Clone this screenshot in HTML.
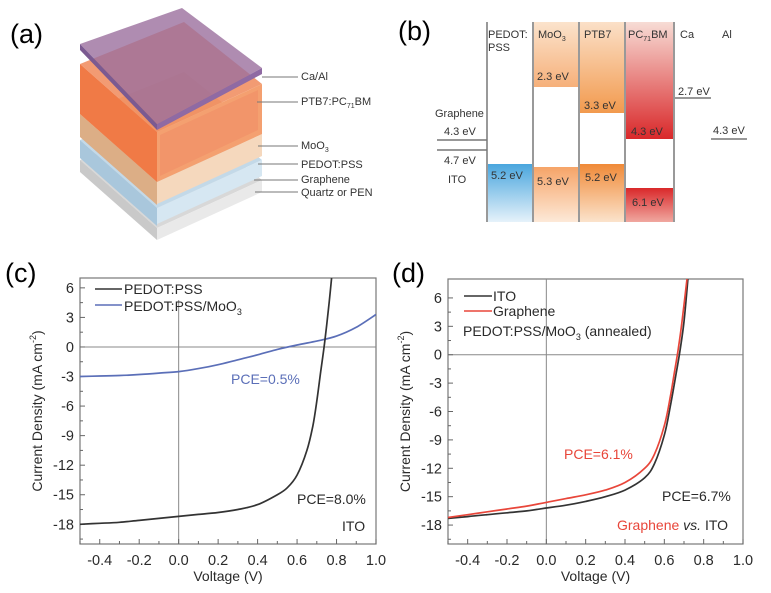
<!DOCTYPE html>
<html><head><meta charset="utf-8">
<style>
html,body{margin:0;padding:0;background:#fff;}
svg{display:block;font-family:"Liberation Sans",Arial,sans-serif;}
</style></head>
<body>
<svg id="fig" width="771" height="593" viewBox="0 0 771 593" xmlns="http://www.w3.org/2000/svg">
<defs>
<linearGradient id="gOrT" x1="0" y1="0" x2="0" y2="1"><stop offset="0" stop-color="#fbe3cc"/><stop offset="1" stop-color="#f6b07a"/></linearGradient>
<linearGradient id="gOrB" x1="0" y1="0" x2="0" y2="1"><stop offset="0" stop-color="#f6a468"/><stop offset="1" stop-color="#fde9d8"/></linearGradient>
<linearGradient id="gPtT" x1="0" y1="0" x2="0" y2="1"><stop offset="0" stop-color="#fbe0c8"/><stop offset="1" stop-color="#f29a4e"/></linearGradient>
<linearGradient id="gPtB" x1="0" y1="0" x2="0" y2="1"><stop offset="0" stop-color="#f08a38"/><stop offset="1" stop-color="#fbe3cc"/></linearGradient>
<linearGradient id="gRdT" x1="0" y1="0" x2="0" y2="1"><stop offset="0" stop-color="#f7dcd5"/><stop offset="1" stop-color="#d9282a"/></linearGradient>
<linearGradient id="gRdB" x1="0" y1="0" x2="0" y2="1"><stop offset="0" stop-color="#d9282a"/><stop offset="1" stop-color="#f0a8a0"/></linearGradient>
<linearGradient id="gBl" x1="0" y1="0" x2="0" y2="1"><stop offset="0" stop-color="#4aa6de"/><stop offset="1" stop-color="#e6f2fa"/></linearGradient>
</defs>

<text x="10" y="43" font-size="27">(a)</text>
<text x="398" y="40" font-size="27">(b)</text>
<text x="5" y="282" font-size="27">(c)</text>
<text x="392" y="282" font-size="27">(d)</text>

<g id="stack">
  <polygon points="80,160 184,118 262,180 157,228" fill="#d8d8d8"/>
  <polygon points="80,160 157,228 157,240 80,172" fill="#c9c9c9"/>
  <polygon points="157,228 262,180 262,192 157,240" fill="#e9e9e9"/>
  <polygon points="80,140 184,98 262,160 157,208" fill="#c3d9e8"/>
  <polygon points="80,140 157,208 157,226 80,158" fill="#a9c7dc"/>
  <polygon points="157,208 262,160 262,176 157,224" fill="#d6e7f2"/>
  <polygon points="80,114 184,72 262,134 157,182" fill="#f2c8a4"/>
  <polygon points="80,114 157,182 157,205 80,137" fill="#dcae86"/>
  <polygon points="157,182 262,134 262,156 157,204" fill="#f5d8bd"/>
  <polygon points="80,64 184,22 262,84 157,132" fill="#f08a5a" opacity="0.85"/>
  <polygon points="80,64 157,132 157,182 80,114" fill="#f07a46"/>
  <polygon points="157,132 262,84 262,134 157,182" fill="#f4a070"/>
  <polygon points="160,135 258,90 258,130 160,176" fill="#f2956a"/>
  <polygon points="80,44 182,8 262,68 157,124" fill="#9b6f9e" opacity="0.8"/>
  <polygon points="80,44 157,124 157,130 80,50" fill="#7b5a91"/>
  <polygon points="157,124 262,68 262,74 157,130" fill="#8f6aa3"/>
  <g stroke="#777" stroke-width="1">
    <line x1="262" y1="77" x2="298" y2="77"/>
    <line x1="257" y1="102" x2="298" y2="102"/>
    <line x1="258" y1="146" x2="298" y2="146"/>
    <line x1="258" y1="164" x2="298" y2="164"/>
    <line x1="254" y1="180" x2="298" y2="180"/>
    <line x1="255" y1="192" x2="298" y2="192"/>
  </g>
  <g font-size="11" fill="#333">
    <text x="301" y="80">Ca/Al</text>
    <text x="301" y="105">PTB7:PC<tspan font-size="7" dy="3">71</tspan><tspan dy="-3">BM</tspan></text>
    <text x="301" y="149">MoO<tspan font-size="7" dy="3">3</tspan></text>
    <text x="301" y="168">PEDOT:PSS</text>
    <text x="301" y="183">Graphene</text>
    <text x="301" y="196">Quartz or PEN</text>
  </g>
</g>

<g id="bands" font-size="11" fill="#333">
  <rect x="534" y="22" width="45" height="65" fill="url(#gOrT)"/>
  <rect x="534" y="167" width="45" height="55" fill="url(#gOrB)"/>
  <rect x="580" y="22" width="45" height="91" fill="url(#gPtT)"/>
  <rect x="580" y="164" width="45" height="58" fill="url(#gPtB)"/>
  <rect x="626" y="22" width="47" height="117" fill="url(#gRdT)"/>
  <rect x="626" y="188" width="47" height="34" fill="url(#gRdB)"/>
  <rect x="487" y="164" width="46" height="58" fill="url(#gBl)"/>
  <g stroke="#999" stroke-width="2">
    <line x1="487" y1="22" x2="487" y2="222"/>
    <line x1="533" y1="22" x2="533" y2="222"/>
    <line x1="579" y1="22" x2="579" y2="222"/>
    <line x1="625" y1="22" x2="625" y2="222"/>
    <line x1="674" y1="22" x2="674" y2="222"/>
  </g>
  <g stroke="#777" stroke-width="1.5">
    <line x1="437" y1="140" x2="487" y2="140"/>
    <line x1="437" y1="150" x2="487" y2="150"/>
    <line x1="675" y1="98" x2="711" y2="98"/>
    <line x1="711" y1="139" x2="747" y2="139"/>
  </g>
  <text x="488" y="38">PEDOT:</text><text x="488" y="51">PSS</text>
  <text x="538" y="38">MoO<tspan font-size="7" dy="3">3</tspan></text>
  <text x="584" y="38">PTB7</text>
  <text x="628" y="38">PC<tspan font-size="7" dy="3">71</tspan><tspan dy="-3">BM</tspan></text>
  <text x="680" y="38">Ca</text>
  <text x="722" y="38">Al</text>
  <text x="537" y="80">2.3 eV</text>
  <text x="584" y="109">3.3 eV</text>
  <text x="631" y="135">4.3 eV</text>
  <text x="678" y="95">2.7 eV</text>
  <text x="713" y="134">4.3 eV</text>
  <text x="435" y="117">Graphene</text>
  <text x="444" y="135">4.3 eV</text>
  <text x="444" y="164">4.7 eV</text>
  <text x="448" y="183">ITO</text>
  <text x="491" y="179">5.2 eV</text>
  <text x="537" y="185">5.3 eV</text>
  <text x="585" y="181">5.2 eV</text>
  <text x="632" y="206">6.1 eV</text>
</g>

<g id="plotC"></g>
<g id="plotD"></g>
</svg>

<script>
const xTicks = [-0.4,-0.2,0.0,0.2,0.4,0.6,0.8,1.0];
const yTicks = [6,3,0,-3,-6,-9,-12,-15,-18];
const cV_pedot = [-0.5,-0.4,-0.3,-0.2,-0.1,0,0.1,0.2,0.3,0.4,0.5,0.55,0.6,0.65,0.68,0.7,0.72,0.74,0.76,0.775];
const cJ_pedot = [-18.0,-17.9,-17.8,-17.6,-17.4,-17.2,-17.0,-16.8,-16.5,-16.0,-15.0,-14.3,-13.0,-10.5,-8.0,-5.5,-2.5,0.5,4.0,7.0];
const cV_moo3 = [-0.5,-0.4,-0.3,-0.2,-0.1,0,0.1,0.2,0.3,0.4,0.5,0.6,0.7,0.8,0.9,1.0];
const cJ_moo3 = [-3.0,-2.95,-2.9,-2.8,-2.65,-2.5,-2.2,-1.8,-1.3,-0.8,-0.25,0.2,0.6,1.1,2.0,3.3];
const dV_ito = [-0.5,-0.4,-0.3,-0.2,-0.1,0,0.1,0.2,0.3,0.4,0.5,0.55,0.6,0.63,0.66,0.68,0.70,0.72];
const dJ_ito = [-17.3,-17.1,-16.9,-16.7,-16.5,-16.2,-15.9,-15.5,-15.0,-14.3,-13.0,-11.5,-8.5,-5.5,-2.0,0.5,3.5,8.0];
const dV_gr = [-0.5,-0.4,-0.3,-0.2,-0.1,0,0.1,0.2,0.3,0.4,0.5,0.55,0.6,0.63,0.65,0.67,0.69,0.715];
const dJ_gr = [-17.2,-16.9,-16.6,-16.3,-16.0,-15.6,-15.2,-14.8,-14.3,-13.5,-12.0,-10.5,-7.5,-4.5,-2.0,0.5,3.5,8.0];

const NS = "http://www.w3.org/2000/svg";
function mk(tag, attrs, parent){
  const e = document.createElementNS(NS, tag);
  for (const k in attrs) e.setAttribute(k, attrs[k]);
  parent.appendChild(e); return e;
}
function smoothPath(pts){
  let d = 'M' + pts[0][0].toFixed(1) + ',' + pts[0][1].toFixed(1);
  for (let i = 0; i < pts.length - 1; i++){
    const p0 = pts[Math.max(0, i-1)], p1 = pts[i], p2 = pts[i+1], p3 = pts[Math.min(pts.length-1, i+2)];
    const c1x = p1[0] + (p2[0]-p0[0])/6, c1y = p1[1] + (p2[1]-p0[1])/6;
    const c2x = p2[0] - (p3[0]-p1[0])/6, c2y = p2[1] - (p3[1]-p1[1])/6;
    d += 'C' + c1x.toFixed(1) + ',' + c1y.toFixed(1) + ' ' + c2x.toFixed(1) + ',' + c2y.toFixed(1) + ' ' + p2[0].toFixed(1) + ',' + p2[1].toFixed(1);
  }
  return d;
}

function drawPlot(gid, box, yMax, series, prefix){
  const g = document.getElementById(gid);
  
  
  const xs = v => box.l + (v + 0.5) / 1.5 * (box.r - box.l);
  const ys = j => box.t + (yMax - j) / (yMax + 20) * (box.b - box.t);
  const fr = mk('rect', {x:box.l, y:box.t, width:box.r-box.l, height:box.b-box.t, fill:'none', stroke:'#777', 'stroke-width':1.2}, g);
  
  
  mk('line', {x1:box.l, x2:box.r, y1:ys(0), y2:ys(0), stroke:'#888', 'stroke-width':1}, g);
  mk('line', {x1:xs(0), x2:xs(0), y1:box.zt, y2:box.b, stroke:'#888', 'stroke-width':1}, g);
  for (let i = 0; i < xTicks.length; i++){
    const x = xs(xTicks[i]);
    mk('line', {x1:x, x2:x, y1:box.b, y2:box.b-5, stroke:'#666'}, g);
    const t = mk('text', {x:x, y:box.b+21, 'font-size':14.5, 'text-anchor':'middle', fill:'#2a2a2a'}, g);
    t.textContent = xTicks[i].toFixed(1);
    
    
    const xm = xs(xTicks[i] - 0.1);
    mk('line', {x1:xm, x2:xm, y1:box.b, y2:box.b-3, stroke:'#666'}, g);
  }
  for (let i = 0; i < yTicks.length; i++){
    const y = ys(yTicks[i]);
    mk('line', {x1:box.l, x2:box.l+5, y1:y, y2:y, stroke:'#666'}, g);
    const t = mk('text', {x:box.l-6, y:y+5, 'font-size':14.5, 'text-anchor':'end', fill:'#2a2a2a'}, g);
    t.textContent = yTicks[i];
    
    
    const ym = ys(yTicks[i] - 1.5);
    mk('line', {x1:box.l, x2:box.l+3, y1:ym, y2:ym, stroke:'#666'}, g);
  }
  const xt = mk('text', {x:(box.l+box.r)/2, y:box.b+37, 'font-size':14, 'text-anchor':'middle', fill:'#2a2a2a'}, g);
  xt.textContent = 'Voltage (V)';
  
  
  const cx = box.l - 38, cy = (box.t + box.b)/2;
  const yt = mk('text', {x:cx, y:cy, 'font-size':14, 'text-anchor':'middle', fill:'#2a2a2a', transform:'rotate(-90 '+cx+' '+cy+')'}, g);
  yt.innerHTML = 'Current Density (mA cm<tspan font-size="9" dy="-6">-2</tspan><tspan dy="6">)</tspan>';
  
  
  const cpId = gid + '-clip';
  const defs = mk('defs', {}, g);
  const cp = mk('clipPath', {id:cpId}, defs);
  mk('rect', {x:box.l, y:box.t, width:box.r-box.l, height:box.b-box.t}, cp);
  for (const s of series){
    const pts = s.v.map((v, i) => [xs(v), ys(s.j[i])]);
    const p = mk('path', {d:smoothPath(pts), fill:'none', stroke:s.color, 'stroke-width':1.7, 'clip-path':'url(#'+cpId+')'}, g);
    
    
  }
  return {xs, ys, g};
}

const C = drawPlot('plotC', {l:80, r:376, t:278, b:544, zt:300}, 7,
  [{v:cV_moo3, j:cJ_moo3, color:'#5b6fb8', name:'series-pedot-moo3'},
   {v:cV_pedot, j:cJ_pedot, color:'#333', name:'series-pedot-pss'}], 'c');
const D = drawPlot('plotD', {l:448, r:743, t:279, b:544, zt:279}, 8,
  [{v:dV_ito, j:dJ_ito, color:'#333', name:'series-ito'},
   {v:dV_gr, j:dJ_gr, color:'#e8463a', name:'series-graphene'}], 'd');

function txt(g, x, y, s, opts, name){
  const t = mk('text', Object.assign({x:x, y:y, 'font-size':14, fill:'#2a2a2a'}, opts||{}), g);
  t.innerHTML = s;
  
  
  return t;
}
mk('line', {x1:95, x2:122, y1:289, y2:289, stroke:'#333', 'stroke-width':1.5}, C.g);
txt(C.g, 124, 294, 'PEDOT:PSS', {}, 'legend-pedot-pss');
mk('line', {x1:95, x2:122, y1:305, y2:305, stroke:'#5b6fb8', 'stroke-width':1.5}, C.g);
txt(C.g, 124, 311, 'PEDOT:PSS/MoO<tspan font-size="9" dy="4">3</tspan>', {}, 'legend-pedot-moo3');
txt(C.g, 231, 384, 'PCE=0.5%', {fill:'#5b6fb8'}, 'pce-moo3');
txt(C.g, 297, 504, 'PCE=8.0%', {}, 'pce-pedot');
txt(C.g, 342, 531, 'ITO', {}, 'label-ito-c');

mk('line', {x1:464, x2:492, y1:296, y2:296, stroke:'#333', 'stroke-width':1.5}, D.g);
txt(D.g, 493, 301, 'ITO', {}, 'legend-ito');
mk('line', {x1:464, x2:492, y1:311, y2:311, stroke:'#e8463a', 'stroke-width':1.5}, D.g);
txt(D.g, 493, 316, 'Graphene', {}, 'legend-graphene');
txt(D.g, 463, 336, 'PEDOT:PSS/MoO<tspan font-size="9" dy="4">3</tspan><tspan dy="-4"> (annealed)</tspan>', {}, 'legend-note');
txt(D.g, 564, 459, 'PCE=6.1%', {fill:'#e8463a'}, 'pce-graphene');
txt(D.g, 662, 501, 'PCE=6.7%', {}, 'pce-ito');
txt(D.g, 617, 530, '<tspan fill="#e8463a">Graphene</tspan> <tspan font-style="italic">vs.</tspan> ITO', {}, 'label-comparison');
</script>
</body></html>
